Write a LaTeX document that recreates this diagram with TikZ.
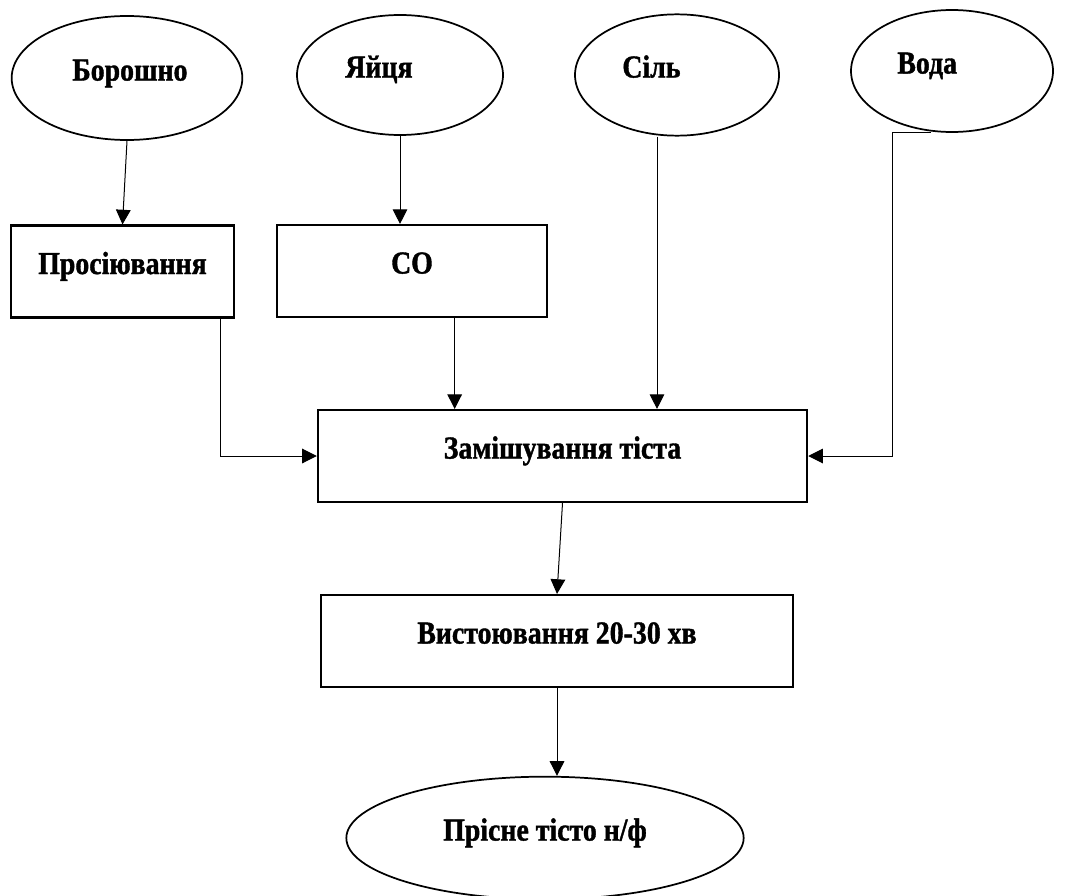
\documentclass[tikz,border=0pt]{standalone}
\usepackage{fontspec}
\setmainfont{Liberation Serif}[BoldFeatures={FakeStretch=0.87,FakeBold=1.2}]
\usetikzlibrary{shapes.geometric,arrows.meta}
\begin{document}
\begin{tikzpicture}[x=0.75pt,y=-0.75pt,
  every node/.style={font=\fontsize{24}{28}\selectfont\bfseries, text height=15pt, text depth=11.2pt},
  oval/.style={ellipse, draw=black, line width=1.3pt, inner sep=0pt},
  ingredient/.style={oval, text width=82pt, align=left},
  stage/.style={rectangle, draw=black, line width=1.6pt, minimum height=69pt},
  flow/.style={line width=0.75pt, -{Triangle[length=11pt,width=11pt]}}]
\useasboundingbox (0,0) rectangle (1073,895);
\node [ingredient, minimum width=173pt, minimum height=93pt] (flour) at (127,78) {Борошно};
\node [ingredient, minimum width=154.5pt, minimum height=90pt] (eggs) at (400,75) {Яйця};
\node [ingredient, minimum width=153pt, minimum height=91pt] (salt) at (677,75) {Сіль};
\node [ingredient, minimum width=151.5pt, minimum height=91.5pt] (water) at (952,71) {Вода};
\node [stage, minimum width=167pt] (sifting) at (122.5,271.5) {Просіювання};
\node [stage, minimum width=202.5pt] (eggprep) at (412,271) {СО};
\node [stage, minimum width=367pt] (mixing) at (562.5,456) {Замішування тіста};
\node [stage, minimum width=354pt] (resting) at (557,641) {Вистоювання 20-30 хв};
\node [oval, minimum width=298pt, minimum height=92pt] (dough) at (545,838) {Прісне тісто н/ф};
\coordinate (siftturn) at (220,456);
\coordinate (waterturn) at (892,456);
\draw [flow] (flour.south) -- (sifting.north);
\draw [flow] (eggs.south) -- (eggs.south |- eggprep.north);
\draw [flow] (sifting.south) -| (siftturn) -- (mixing.west);
\draw [flow] ([xshift=32pt]eggprep.south) -- ([xshift=32pt]eggprep.south |- mixing.north);
\draw [flow] ([xshift=-15pt]salt.south) -- ([xshift=-15pt]salt.south |- mixing.north);
\draw [flow] ([xshift=-16pt]water.south) -| (waterturn) -- (mixing.east);
\draw [flow] (mixing.south) -- (resting.north);
\draw [flow] (resting.south) -- (resting.south |- dough.north);
\end{tikzpicture}
\end{document}
